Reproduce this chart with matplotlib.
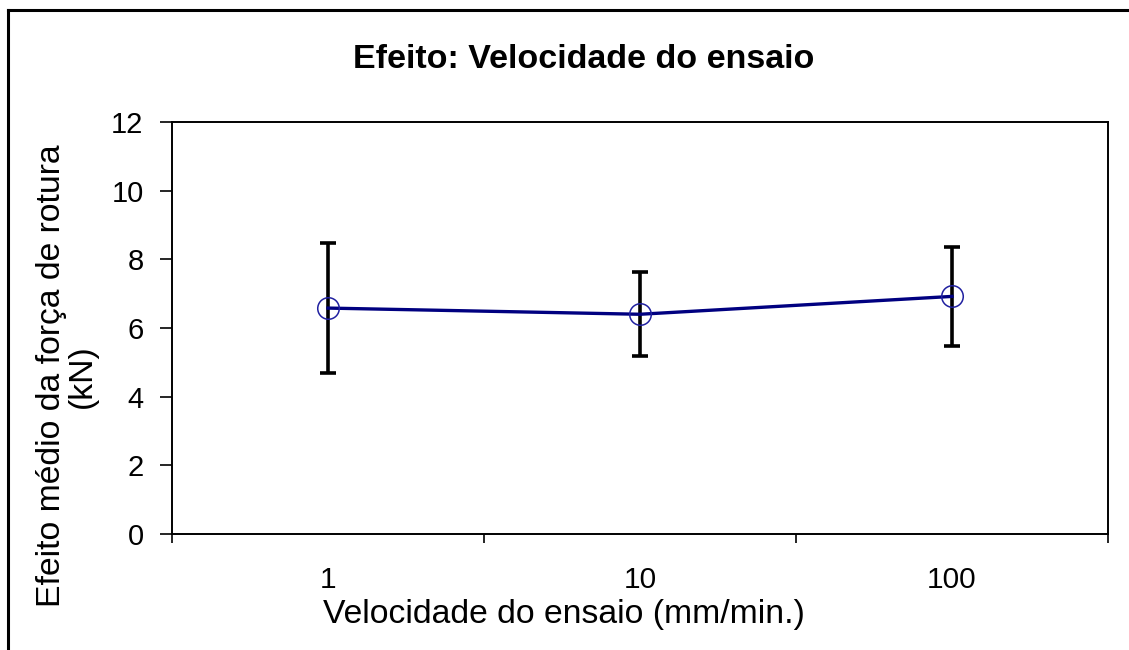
import matplotlib
matplotlib.use("Agg")
import matplotlib.pyplot as plt
from matplotlib.lines import Line2D
import numpy as np

# Test speed levels (mm/min.) and mean effect on breaking force (kN)
categories = ["1", "10", "100"]
mean_effect = [6.58, 6.40, 6.92]
error_half = [1.89, 1.22, 1.45]
y_ticks = [0, 2, 4, 6, 8, 10, 12]

plt.rcParams["font.family"] = ["Liberation Sans", "DejaVu Sans"]

W, H = 1129, 650
fig = plt.figure(figsize=(W / 100, H / 100), dpi=100)
fig.patch.set_facecolor("white")

ax = fig.add_axes([172 / W, 1 - 534 / H, (1108 - 172) / W, (534 - 122) / H])

x = np.arange(len(categories))

ax.errorbar(x, mean_effect, yerr=error_half, fmt="none", ecolor="black",
            elinewidth=2.6, capsize=6, capthick=2.6, zorder=2)
ax.plot(x, mean_effect, color="#000080", linewidth=2.4, zorder=3)
ax.plot(x, mean_effect, linestyle="none", marker="o", markersize=15.5,
        markerfacecolor="none", markeredgecolor="#2020a0",
        markeredgewidth=1.1, zorder=4)

ax.set_xlim(-0.5, len(categories) - 0.5)
ax.set_ylim(0, 12)
ax.set_yticks(y_ticks)
ax.set_yticklabels([str(v) for v in y_ticks])

# Category boundaries carry tick marks; labels sit at category centres
ax.set_xticks(np.arange(-0.5, len(categories), 1.0))
ax.set_xticklabels([])
ax.set_xticks(x, minor=True)
ax.set_xticklabels(categories, minor=True)
ax.tick_params(axis="x", which="major", direction="out", length=6.5,
               width=1.2, color="black")
ax.tick_params(axis="x", which="minor", length=0, pad=23, labelsize=21.5)
ax.tick_params(axis="y", direction="out", length=8.5, width=1.2,
               color="black", labelsize=21, pad=12)

for side in ["left", "right", "top", "bottom"]:
    ax.spines[side].set_linewidth(1.4)
    ax.spines[side].set_color("black")

fig.text(564 / W, 1 - 623 / H, "Velocidade do ensaio (mm/min.)",
         ha="center", va="baseline", fontsize=24.3)

fig.text(584 / W, 1 - 68 / H, "Efeito: Velocidade do ensaio",
         ha="center", va="baseline", fontsize=24.5, fontweight="bold")

fig.text(67 / W, 1 - 376 / H, "Efeito médio da força de rotura\n(kN)",
         ha="center", va="center", rotation=90, fontsize=24.3,
         linespacing=1.0, multialignment="center")

# Chart area border (left and top edges)
fig.add_artist(Line2D([7.5 / W, 7.5 / W], [0, 1 - 10 / H], color="black",
                      linewidth=2.2, transform=fig.transFigure))
fig.add_artist(Line2D([7.5 / W, 1], [1 - 10 / H, 1 - 10 / H], color="black",
                      linewidth=2.2, transform=fig.transFigure))

fig.savefig("out.png", dpi=100, facecolor="white")
